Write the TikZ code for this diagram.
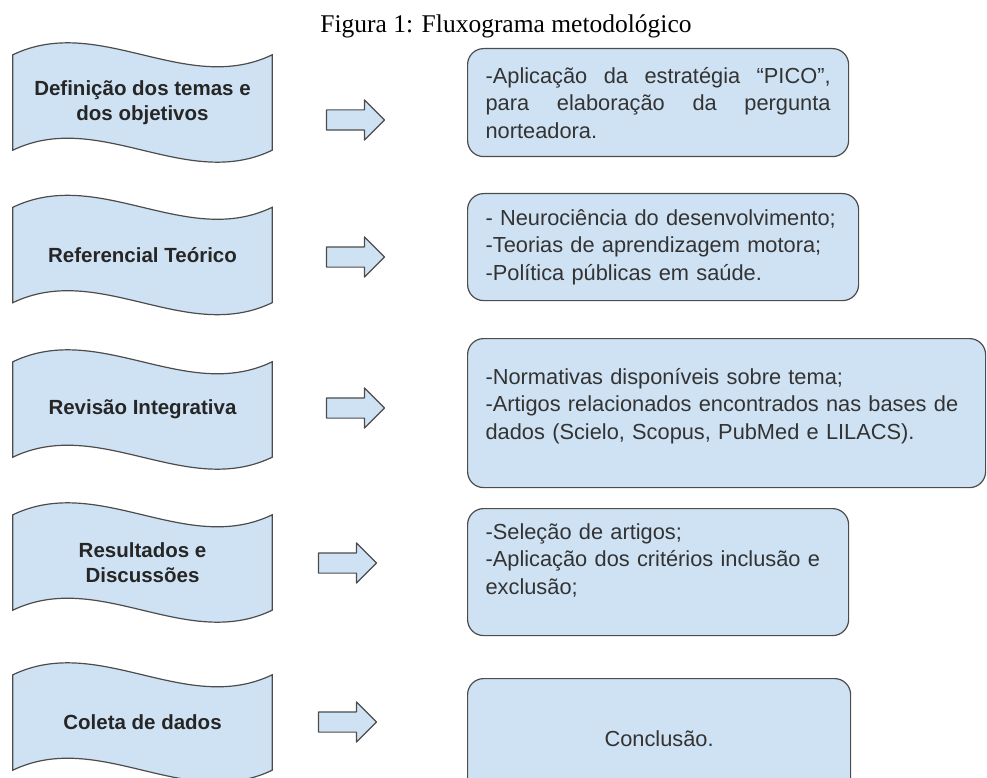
\documentclass[tikz,border=0pt]{standalone}
\usepackage{fontspec}
\setmainfont{Liberation Serif}
\setsansfont{Liberation Sans}
\usepackage{tikz}
\usetikzlibrary{positioning}
\usetikzlibrary{shapes.arrows}
\usetikzlibrary{backgrounds}
\definecolor{lightblue}{rgb}{0.81, 0.886, 0.953}
\definecolor{edgegray}{rgb}{0.3, 0.3, 0.3}
\hyphenpenalty=10000
\tolerance=10000

\begin{document}
\begin{tikzpicture}[line cap=round,line join=round,x=1pt,y=-1pt,
  wave/.style={draw=edgegray,fill=lightblue,line width=1.2pt},
  stage/.style={minimum width=259pt,minimum height=95pt,inner sep=0pt,align=center,
    font=\sffamily\bfseries\fontsize{20.5}{25}\selectfont,text=black!85},
  infobox/.style={draw=edgegray,fill=lightblue,line width=1.2pt,rounded corners=16pt,
    anchor=north west,inner xsep=18pt,inner ysep=0pt,align=left,
    font=\sffamily\fontsize{21.8}{27.5}\selectfont,text=black!80},
  blockarrow/.style={single arrow,draw=edgegray,fill=lightblue,line width=1.2pt,
    minimum height=58pt,inner xsep=0pt,inner ysep=9.5pt,single arrow head extend=10pt,
    single arrow tip angle=90}]
\useasboundingbox (0,0) rectangle (987,778);
\clip (0,0) rectangle (987,778);
% caption
\node[font=\fontsize{25.5}{30}\selectfont,anchor=base] (caption) at (506,33) {Figura 1: Fluxograma metodológico};
% left column
\node[stage] (s1) at (142.5,102.5) {Definição dos temas e\\dos objetivos};
\node[stage] (s2) at (142.5,255) {Referencial Teórico};
\node[stage] (s3) at (142.5,409.5) {Revisão Integrativa};
\node[stage] (s4) at (142.5,562.5) {Resultados e\\Discussões};
\node[stage] (s5) at (142.5,722.5) {Coleta de dados};
\begin{scope}[on background layer]
\foreach \n in {s1,s2,s3,s4,s5}
  \draw[wave] (\n.north west) .. controls +(86.3,-41.5) and +(-86.3,41.5) .. (\n.north east)
    -- (\n.south east) .. controls +(-86.3,41.5) and +(86.3,-41.5) .. (\n.south west) -- cycle;
\end{scope}
% arrows
\node[blockarrow] (a1) at (350.5,120) {};
\node[blockarrow] (a2) at (350.5,257) {};
\node[blockarrow] (a3) at (350.5,408) {};
\node[blockarrow] (a4) at (342.5,563) {};
\node[blockarrow] (a5) at (342.5,722) {};
% right column
\node[infobox,text width=345pt,minimum height=108pt,align=justify] (b1) at (467,48)
  {-Aplicação da estratégia “PICO”, para elaboração da pergunta norteadora.};
\node[infobox,text width=355pt,minimum height=107pt] (b2) at (467,193)
  {- Neurociência do desenvolvimento;\\-Teorias de aprendizagem motora;\\-Política públicas em saúde.};
\node[infobox,text width=482pt,minimum height=149pt,text depth=74pt] (b3) at (467,338)
  {-Normativas disponíveis sobre tema;\\-Artigos relacionados encontrados nas bases de\\dados (Scielo, Scopus, PubMed e LILACS).};
\node[infobox,text width=345pt,minimum height=127pt,text depth=82pt] (b4) at (467,508)
  {-Seleção de artigos;\\-Aplicação dos critérios inclusão e\\exclusão;};
\node[infobox,text width=347pt,minimum height=120pt,align=center] (b5) at (467,678)
  {Conclusão.};
\end{tikzpicture}
\end{document}
